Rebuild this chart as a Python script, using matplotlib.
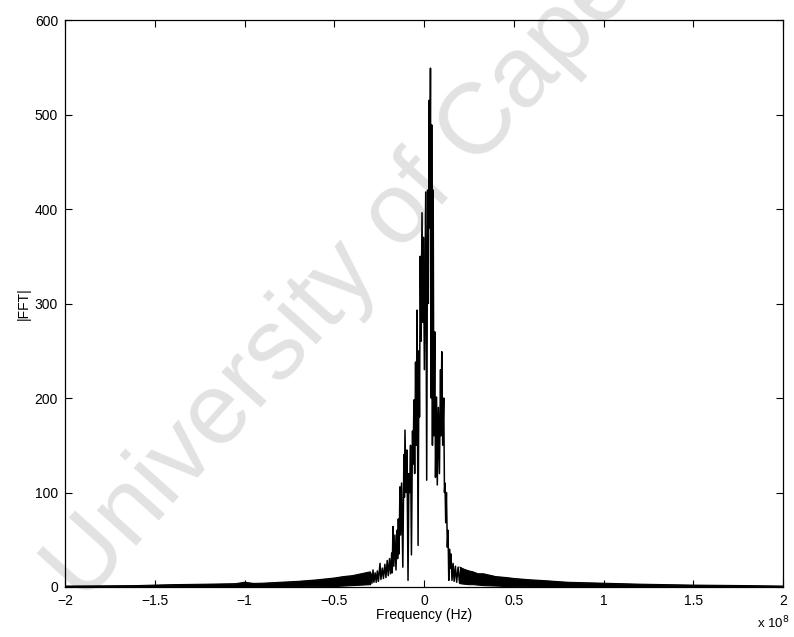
import matplotlib
matplotlib.use("Agg")
import matplotlib.pyplot as plt
import numpy as np

# ---- data (frequency in units of 1e8 Hz, magnitude |FFT|) ----
# dense central part read as alternating peaks / troughs
center_freq = [-0.300, -0.295, -0.290, -0.284, -0.279, -0.272, -0.266, -0.260, -0.254, -0.245,
               -0.240, -0.232, -0.226, -0.218, -0.212, -0.205, -0.199, -0.192, -0.186, -0.180,
               -0.177, -0.173, -0.168, -0.162, -0.156, -0.150, -0.147, -0.143, -0.139, -0.134,
               -0.130, -0.125, -0.118, -0.112, -0.109, -0.106, -0.100, -0.095, -0.089, -0.084,
               -0.080, -0.075, -0.070, -0.064, -0.061, -0.056, -0.052, -0.047, -0.043, -0.039,
               -0.033, -0.028, -0.025, -0.021, -0.017, -0.011, -0.007, -0.003, 0.002, 0.0095,
               0.015, 0.020, 0.024, 0.029, 0.032, 0.036, 0.040, 0.043, 0.047, 0.051,
               0.055, 0.060, 0.064, 0.070, 0.074, 0.080, 0.086, 0.092, 0.095, 0.099,
               0.104, 0.110, 0.114, 0.117, 0.121, 0.125, 0.130, 0.134, 0.138, 0.142,
               0.146, 0.150, 0.156, 0.162, 0.168, 0.175, 0.182, 0.190, 0.198, 0.205]
center_mag = [4, 14, 4, 18, 5, 15, 5, 17, 6, 25,
              8, 20, 9, 24, 10, 28, 12, 30, 14, 36,
              15, 64, 22, 55, 18, 60, 30, 72, 35, 106,
              55, 110, 21, 140, 95, 166, 100, 145, 7, 120,
              100, 150, 34, 165, 130, 198, 120, 238, 150, 293,
              44, 250, 180, 350, 260, 396, 280, 370, 230, 418,
              113, 420, 300, 515, 380, 549, 200, 489, 150, 420,
              160, 270, 116, 201, 108, 190, 120, 230, 160, 249,
              150, 200, 100, 110, 68, 100, 42, 60, 7, 40,
              20, 35, 7, 25, 6, 22, 5, 21, 4, 19]

# low-level tails (upper / lower edge of the dense band)
left_freq = [-2.0, -1.8, -1.6, -1.5, -1.4, -1.2, -1.05, -1.0, -0.95, -0.9,
             -0.8, -0.7, -0.6, -0.5, -0.45, -0.4, -0.35, -0.3]
left_hi = [1.0, 1.2, 1.5, 2.0, 2.5, 3.0, 3.5, 5.0, 3.8, 4.0,
           5.0, 6.0, 7.5, 9.5, 11, 12, 14, 16]
left_lo = [0, 0, 0, 0, 0, 0.2, 0.3, 0.3, 0.3, 0.4,
           0.5, 0.6, 0.8, 1.0, 1.5, 2.0, 2.5, 3.0]

right_freq = [0.2, 0.22, 0.25, 0.273, 0.3, 0.33, 0.4, 0.46, 0.5, 0.6,
              0.65, 0.8, 1.0, 1.2, 1.5, 1.8, 2.0]
right_hi = [21, 19, 17, 16, 14, 14, 11, 10, 9, 7.5,
            7, 5, 4, 3, 2, 1.5, 1.0]
right_lo = [4, 3.5, 3, 3, 2.5, 2, 1.5, 1, 0.8, 0.6,
            0.5, 0.4, 0.3, 0.2, 0, 0, 0]

x_ticks = [-2, -1.5, -1, -0.5, 0, 0.5, 1, 1.5, 2]
x_ticklabels = ["\u22122", "\u22121.5", "\u22121", "\u22120.5", "0", "0.5", "1", "1.5", "2"]
y_ticks = [0, 100, 200, 300, 400, 500, 600]

plt.rcParams['font.family'] = ['Liberation Sans', 'DejaVu Sans']

fig = plt.figure(figsize=(7.94, 6.37), dpi=100)
ax = fig.add_axes([65/794, 1-587/637, (783-65)/794, (587-20)/637])

# watermark (only this part is visible in the reference)
ax.text(0.105, 0.05, "University of Cape", transform=fig.transFigure,
        rotation=48, rotation_mode='anchor', ha='left', va='baseline',
        fontsize=73, color='#e2e2e2', zorder=0.5, clip_on=False)

ax.fill_between(left_freq, left_lo, left_hi, color='black', lw=0.8, zorder=2)
ax.plot(left_freq, left_hi, color='black', lw=0.8, zorder=2)
ax.fill_between(right_freq, right_lo, right_hi, color='black', lw=0.8, zorder=2)
ax.plot(right_freq, right_hi, color='black', lw=0.8, zorder=2)
ax.plot(center_freq, center_mag, color='black', lw=1.1, zorder=3)

ax.set_xlim(-2, 2)
ax.set_ylim(0, 600)
ax.set_xticks(x_ticks)
ax.set_xticklabels(x_ticklabels)
ax.set_yticks(y_ticks)
ax.tick_params(direction='in', top=True, right=True, length=5, width=0.8,
               labelsize=10, pad=5, colors='black')
for s in ax.spines.values():
    s.set_linewidth(0.9)

ax.set_xlabel("Frequency (Hz)", fontsize=10, labelpad=0)
ax.set_ylabel("|FFT|", fontsize=10, labelpad=3)
fig.text(757/794, 1-628/637, r"x 10$^8$", fontsize=9.5, ha='left', va='baseline')

fig.savefig("out.png", dpi=100, facecolor='white')
